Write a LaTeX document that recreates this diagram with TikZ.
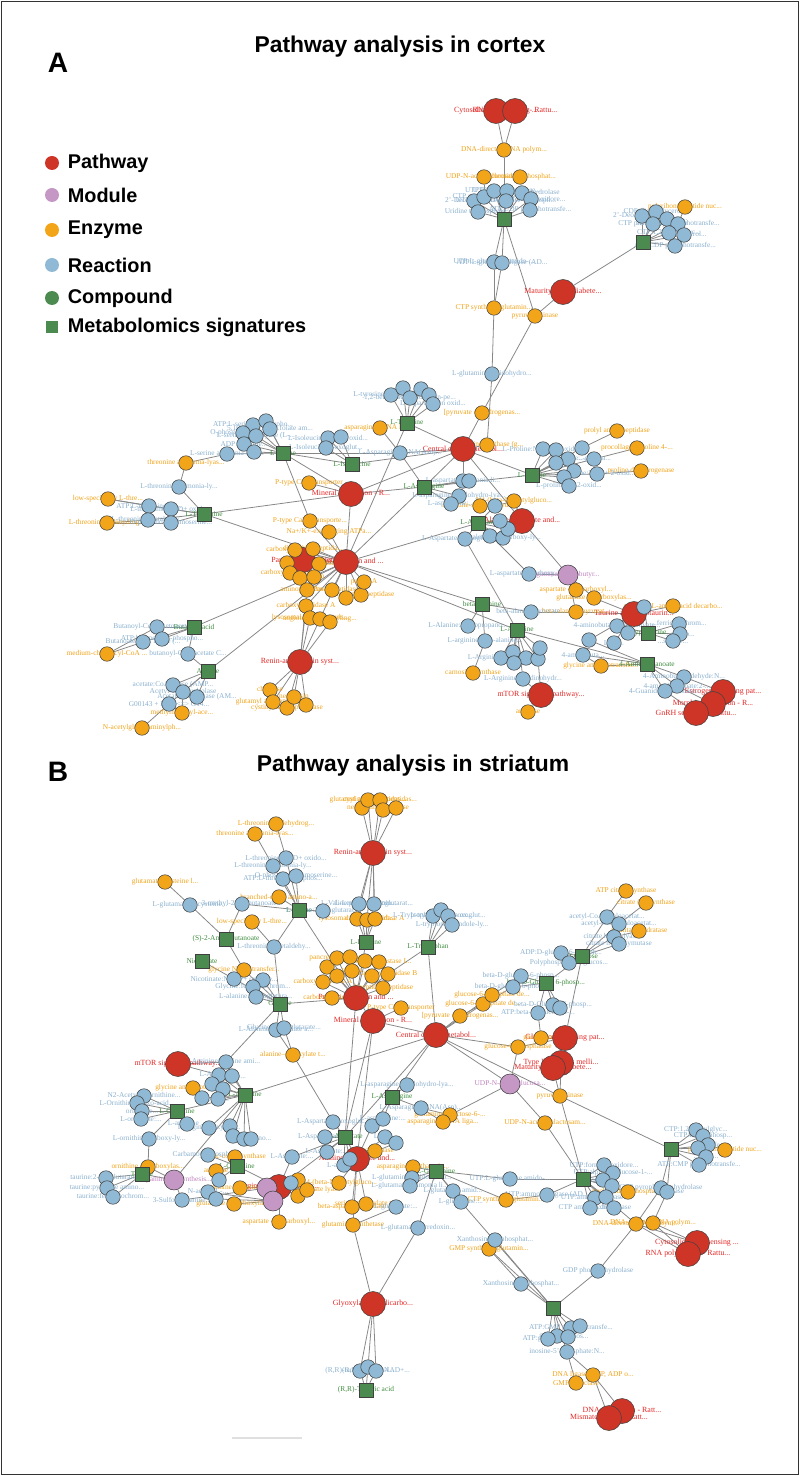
\documentclass[tikz,border=0pt]{standalone}
\usepackage{fontspec}
\setmainfont{Liberation Serif}
\newfontfamily\headfont{Liberation Sans}
\usepackage{tikz}
\usetikzlibrary{positioning}
\definecolor{pwred}{RGB}{206,53,39}
\definecolor{mdpink}{RGB}{197,151,197}
\definecolor{enzorange}{RGB}{242,165,24}
\definecolor{rxnblue}{RGB}{143,185,212}
\definecolor{cmpgreen}{RGB}{75,139,79}
\definecolor{pwtext}{RGB}{226,40,38}
\definecolor{mdtext}{RGB}{190,130,190}
\definecolor{enztext}{RGB}{240,162,24}
\definecolor{rxntext}{RGB}{138,176,206}
\definecolor{cmptext}{RGB}{62,140,62}
\definecolor{linkgray}{RGB}{135,135,135}
\pgfdeclarelayer{edges}
\pgfdeclarelayer{labels}
\pgfsetlayers{edges,labels,main}
\tikzset{
every node/.style={inner sep=1pt},
vtx/.style={circle, draw=black!75, line width=0.3pt, minimum size=2.9mm, inner sep=0pt},
pw/.style={vtx, fill=pwred, minimum size=5mm},
md/.style={vtx, fill=mdpink, minimum size=4mm},
enz/.style={vtx, fill=enzorange},
rxn/.style={vtx, fill=rxnblue},
cmp/.style={vtx, rectangle, fill=cmpgreen, minimum size=2.8mm},
lbl/.style={font=\fontsize{4.2}{5}\selectfont, inner sep=0pt},
pw text/.style={lbl, text=pwtext, font=\fontsize{4.5}{5}\selectfont},
md text/.style={lbl, text=mdtext},
enz text/.style={lbl, text=enztext},
rxn text/.style={lbl, text=rxntext},
cmp text/.style={lbl, text=cmptext},
link/.style={draw=linkgray, line width=0.45pt},
legend/.style={font=\headfont\bfseries\fontsize{11.3}{13}\selectfont},
heading/.style={font=\headfont\bfseries\fontsize{13}{15}\selectfont},
panel/.style={font=\headfont\bfseries\fontsize{16}{18}\selectfont},
}
% vertex now, its label collected and set later under the vertices
\makeatletter
\newcommand{\labelcode}{}
\newcommand{\netnode}[4]{%
  \node[#1] (#2) at (#3) {};%
  \g@addto@macro\labelcode{\node[#1 text] at (#3) {#4};}}
\makeatother

\begin{document}
\begin{tikzpicture}[x=0.2mm,y=-0.2mm]
  \useasboundingbox (0,0) rectangle (800,1476);
  \draw[black!80, line width=0.7pt] (1.5,1.5) rectangle (798.5,1474.5);

  %% panel A
  \node[panel] (labA) at (58,63) {A};
  \node[heading] (ttlA) at (400,47) {Pathway analysis in cortex};

  \node[pw, minimum size=2.8mm, draw=none] (lgPw) at (52,163) {};
  \node[legend, right=1.3mm of lgPw] {Pathway};
  \node[md, minimum size=2.8mm, draw=none] (lgMd) at (52,195) {};
  \node[legend, right=1.3mm of lgMd] {Module};
  \node[enz, minimum size=2.8mm, draw=none] (lgEnz) at (52,230) {};
  \node[legend, right=1.3mm of lgEnz] {Enzyme};
  \node[rxn, minimum size=2.8mm, draw=none] (lgRxn) at (52,265) {};
  \node[legend, right=1.3mm of lgRxn] {Reaction};
  \node[vtx, fill=cmpgreen, minimum size=2.8mm, draw=none] (lgCmp) at (52,298) {};
  \node[legend, right=1.3mm of lgCmp] {Compound};
  \node[cmp, minimum size=2.4mm, draw=none] (lgSig) at (52,327) {};
  \node[legend, right=1.5mm of lgSig] {Metabolomics signatures};

  \netnode{pw}{aCyt}{496,111}{Cytosolic DNA-sensing ...}
  \netnode{pw}{aRpol}{515,111}{RNA polymerase - Rattu...}
  \netnode{pw}{aMody}{563,292}{Maturity onset diabete...}
  \netnode{pw}{aCent}{463,449}{Central carbon metabol...}
  \netnode{pw}{aMin}{351,494}{Mineral absorption - R...}
  \netnode{pw}{aPanc}{303,560}{Pancreatic secretion}
  \netnode{pw}{aProt}{346,562}{Protein digestion and ...}
  \netnode{pw}{aRen}{300,662}{Renin-angiotensin syst...}
  \netnode{pw}{aAla}{522,521}{Alanine, aspartate and...}
  \netnode{pw}{aTau}{634,614}{Taurine and hypotaurin...}
  \netnode{pw}{aMtor}{541,695}{mTOR signaling pathway...}
  \netnode{pw}{aEst}{723,692}{Estrogen signaling pat...}
  \netnode{pw}{aMor}{713,704}{Morphine addiction - R...}
  \netnode{pw}{aGnrh}{696,713}{GnRH secretion - Rattu...}
  \netnode{md}{aGaba}{568,575}{gamma-aminobutyr...}

  \netnode{enz}{aDdrp}{504,150}{DNA-directed RNA polym...}
  \netnode{enz}{aUdp}{484,177}{UDP-N-acetylglucosam...}
  \netnode{enz}{aNdp}{520,177}{nucleoside-diphosphat...}
  \netnode{enz}{aCtps}{494,308}{CTP synthase (glutamin...}
  \netnode{enz}{aPyk}{535,316}{pyruvate kinase}
  \netnode{enz}{aPolyn}{685,207}{polyribonucleotide nuc...}
  \netnode{enz}{aPdh}{482,413}{[pyruvate dehydrogenas...}
  \netnode{enz}{aAsns}{487,445}{asparagine synthase (g...}
  \netnode{enz}{aProl}{617,431}{prolyl aminopeptidase}
  \netnode{enz}{aP4h}{637,448}{procollagen-proline 4-...}
  \netnode{enz}{aProdh}{641,471}{proline dehydrogenase}
  \netnode{enz}{aN4}{514,501}{N4-(beta-N-acetylgluco...}
  \netnode{enz}{aAsd}{480,506}{aspartate-semialdehyde...}
  \netnode{enz}{aAsnl}{380,428}{asparagine--tRNA liga...}
  \netnode{enz}{aCu}{309,483}{P-type Cu+ transporter}
  \netnode{enz}{aCa}{310,521}{P-type Ca2+ transporte...}
  \netnode{enz}{aNak}{329,532}{Na+/K+-exchanging ATPa...}
  \netnode{enz}{aThr}{186,463}{threonine ammonia-lyas...}
  \netnode{enz}{aLsta}{108,499}{low-specificity L-thre...}
  \netnode{enz}{aTdh}{107,523}{L-threonine 3-dehydrog...}
  \netnode{enz}{aDg1}{295,550}{carboxypeptidase...}
  \netnode{enz}{aDg2}{313,549}{dipeptidyl-peptida...}
  \netnode{enz}{aDg3}{287,563}{}
  \netnode{enz}{aDg4}{319,564}{pancreatic elastase II}
  \netnode{enz}{aDg5}{290,573}{carboxypeptidase B}
  \netnode{enz}{aDg6}{300,578}{}
  \netnode{enz}{aDg7}{314,577}{trypsin}
  \netnode{enz}{aDg8}{307,590}{aminopeptidase A}
  \netnode{enz}{aDg9}{332,590}{X-Pro dipeptidase}
  \netnode{enz}{aDg10}{346,598}{}
  \netnode{enz}{aDg11}{361,595}{membrane dipeptidase}
  \netnode{enz}{aDg12}{364,582}{pepsin A}
  \netnode{enz}{aDg13}{306,606}{carboxypeptidase A}
  \netnode{enz}{aDg14}{310,618}{lysosomal Pro-Xaa carb...}
  \netnode{enz}{aDg15}{320,619}{angiotensin-converting...}
  \netnode{enz}{aDg16}{330,622}{}
  \netnode{enz}{aRe1}{270,690}{chymase}
  \netnode{enz}{aRe2}{273,702}{glutamyl aminopeptidase}
  \netnode{enz}{aRe3}{287,708}{cystinyl aminopeptidase}
  \netnode{enz}{aRe4}{294,697}{neprilysin}
  \netnode{enz}{aRe5}{306,705}{renin}
  \netnode{enz}{aMcad}{107,654}{medium-chain acyl-CoA ...}
  \netnode{enz}{aMeth}{182,713}{methylmalonyl-ace...}
  \netnode{enz}{aNac}{142,728}{N-acetylglucosaminylph...}
  \netnode{enz}{aAsdc}{576,590}{aspartate 4-decarboxyl...}
  \netnode{enz}{aGad}{594,598}{glutamate decarboxylas...}
  \netnode{enz}{aBapt}{576,612}{beta-alanine--pyruvat...}
  \netnode{enz}{aAadc}{673,606}{aromatic-L-amino-acid decarbo...}
  \netnode{enz}{aGatm}{601,666}{glycine amidinotransfer...}
  \netnode{enz}{aCarn}{473,673}{carnosine synthase}
  \netnode{enz}{aArg}{528,712}{arginase}

  \netnode{cmp}{aC1}{504,219}{UTP}
  \netnode{cmp}{aC2}{643,242}{CTP}
  \netnode{cmp}{aTyr}{407,423}{L-Tyrosine}
  \netnode{cmp}{aSer}{283,453}{L-Serine}
  \netnode{cmp}{aIle}{352,464}{L-Isoleucine}
  \netnode{cmp}{aThrc}{204,514}{L-Threonine}
  \netnode{cmp}{aPro}{532,475}{L-Proline}
  \netnode{cmp}{aAsn}{424,487}{L-Asparagine}
  \netnode{cmp}{aAsp}{478,523}{L-Aspartate}
  \netnode{cmp}{aBut}{194,627}{Butanoic acid}
  \netnode{cmp}{aAce}{208,671}{Acetate}
  \netnode{cmp}{aBala}{482,604}{beta-Alanine}
  \netnode{cmp}{aArgc}{517,630}{L-Arginine}
  \netnode{cmp}{aHtau}{648,633}{Hypotaurine}
  \netnode{cmp}{aGabc}{647,664}{4-Aminobutanoate}

  \netnode{rxn}{ar1}{474,201}{2'-Deoxycytidine...}
  \netnode{rxn}{ar2}{478,212}{Uridine triphosphate...}
  \netnode{rxn}{ar3}{484,197}{CTP aminohydrolase}
  \netnode{rxn}{ar4}{494,191}{UTP:L-glutamine...}
  \netnode{rxn}{ar5}{507,191}{UTP:ammonia ligase...}
  \netnode{rxn}{ar6}{522,193}{UTP diphosphohydrolase}
  \netnode{rxn}{ar7}{531,199}{UTP:formate oxidore...}
  \netnode{rxn}{ar8}{530,210}{ATP:UDP phosphotransfe...}
  \netnode{rxn}{ar9}{506,201}{UTP:alpha-D-glucose-1-phosph...}
  \netnode{rxn}{ar10}{494,262}{UTP:L-glutamine amido-...}
  \netnode{rxn}{ar11}{502,263}{ATP:L-glutamate ligase (AD...}
  \netnode{rxn}{ar12}{642,216}{2'-Deoxycytidine...}
  \netnode{rxn}{ar13}{656,212}{CDP-diacylglycerol...}
  \netnode{rxn}{ar14}{667,219}{CTP:...phos...}
  \netnode{rxn}{ar15}{653,224}{CTP phosphohydrolase}
  \netnode{rxn}{ar16}{678,224}{ATP:CMP phosphotransfe...}
  \netnode{rxn}{ar17}{669,233}{CTP:1,2-diacylglyc...}
  \netnode{rxn}{ar18}{684,235}{CTP:glycerol...}
  \netnode{rxn}{ar19}{675,246}{ATP:CDP phosphotransfe...}
  \netnode{rxn}{ar20}{492,374}{L-glutamine amidohydro...}
  \netnode{rxn}{ar21}{391,395}{L-tyrosine:oxygen oxid...}
  \netnode{rxn}{ar22}{403,388}{}
  \netnode{rxn}{ar23}{410,398}{1,2-benzoquinone:oxygen-pe...}
  \netnode{rxn}{ar24}{421,389}{}
  \netnode{rxn}{ar25}{429,395}{}
  \netnode{rxn}{ar26}{433,404}{L-dopa:oxygen oxid...}
  \netnode{rxn}{ar27}{400,453}{L-Asparagine:tRNA(Asn)...}
  \netnode{rxn}{ar28}{253,425}{ATP:L-serine O-phospho...}
  \netnode{rxn}{ar29}{266,421}{}
  \netnode{rxn}{ar30}{270,429}{5,10-Methylene...folate am...}
  \netnode{rxn}{ar31}{243,433}{O-phospho-L-serine...}
  \netnode{rxn}{ar32}{256,436}{L-serine hydro-lyase (L-...}
  \netnode{rxn}{ar33}{244,444}{ADP:L-serine...}
  \netnode{rxn}{ar34}{254,452}{}
  \netnode{rxn}{ar35}{227,454}{L-serine ammonia-lyas...}
  \netnode{rxn}{ar36}{328,438}{L-Isoleucine:NAD+ oxid...}
  \netnode{rxn}{ar37}{341,437}{}
  \netnode{rxn}{ar38}{326,448}{L-Isoleucine:2-oxoglut...}
  \netnode{rxn}{ar39}{179,487}{L-threonine ammonia-ly...}
  \netnode{rxn}{ar40}{149,506}{ATP:L-threonine O-...}
  \netnode{rxn}{ar41}{171,509}{L-threonine:NAD+ oxido...}
  \netnode{rxn}{ar42}{148,520}{L-threonine acetaldehy...}
  \netnode{rxn}{ar43}{171,523}{O-phospho-L-homoserine...}
  \netnode{rxn}{ar44}{543,449}{L-Proline:NAD+ 5-oxido...}
  \netnode{rxn}{ar45}{556,450}{}
  \netnode{rxn}{ar46}{582,448}{}
  \netnode{rxn}{ar47}{568,459}{L-proline:...}
  \netnode{rxn}{ar48}{556,463}{}
  \netnode{rxn}{ar49}{594,459}{...-glutara...}
  \netnode{rxn}{ar50}{574,471}{}
  \netnode{rxn}{ar51}{597,474}{L-proline:NAD+ 2-oxid...}
  \netnode{rxn}{ar52}{564,477}{}
  \netnode{rxn}{ar53}{569,486}{L-proline:O2 2-oxid...}
  \netnode{rxn}{ar54}{463,481}{L-aspartate:ammonia li...}
  \netnode{rxn}{ar55}{469,481}{}
  \netnode{rxn}{ar56}{459,496}{L-asparagine amidohydro-lya...}
  \netnode{rxn}{ar57}{451,504}{L-asparagine:...}
  \netnode{rxn}{ar58}{495,506}{}
  \netnode{rxn}{ar59}{465,539}{L-Aspartate:2-oxoglutarate...}
  \netnode{rxn}{ar60}{490,536}{}
  \netnode{rxn}{ar61}{503,538}{oxaloacetate carboxy-ly...}
  \netnode{rxn}{ar62}{508,529}{}
  \netnode{rxn}{ar63}{500,521}{}
  \netnode{rxn}{ar64}{529,574}{L-aspartate 4-carboxy-ly...}
  \netnode{rxn}{ar65}{644,607}{}
  \netnode{rxn}{ar66}{617,626}{4-aminobutanoate:pyruvate...}
  \netnode{rxn}{ar67}{628,633}{}
  \netnode{rxn}{ar68}{614,643}{L-...:...}
  \netnode{rxn}{ar69}{589,640}{}
  \netnode{rxn}{ar70}{679,624}{...ferricytochrom...}
  \netnode{rxn}{ar71}{680,634}{...amino...}
  \netnode{rxn}{ar72}{673,641}{...starate...}
  \netnode{rxn}{ar73}{583,655}{4-aminobuta...}
  \netnode{rxn}{ar74}{684,677}{4-Aminobutyraldehyde:N...}
  \netnode{rxn}{ar75}{677,686}{4-aminobutanoate:2-...}
  \netnode{rxn}{ar76}{665,691}{4-Guanidinobutanoate...}
  \netnode{rxn}{ar77}{531,612}{beta-alanine:pyruvate...}
  \netnode{rxn}{ar78}{468,626}{L-Alanine:2-oxopropano...}
  \netnode{rxn}{ar79}{485,641}{L-arginine:beta-alanine...}
  \netnode{rxn}{ar80}{501,658}{L-Argininosuccinate...}
  \netnode{rxn}{ar81}{513,652}{}
  \netnode{rxn}{ar82}{526,658}{N-(...)...}
  \netnode{rxn}{ar83}{538,659}{}
  \netnode{rxn}{ar84}{540,648}{}
  \netnode{rxn}{ar85}{514,663}{}
  \netnode{rxn}{ar86}{523,679}{L-Arginine amidinohydr...}
  \netnode{rxn}{ar87}{157,627}{Butanoyl-CoA:acetoacetate...}
  \netnode{rxn}{ar88}{162,639}{ATP:butanoate 1-phospho...}
  \netnode{rxn}{ar89}{143,642}{Butanoate:CoA ligase (...}
  \netnode{rxn}{ar90}{188,654}{butanoyl-CoA:acetate C...}
  \netnode{rxn}{ar91}{173,685}{acetate:CoA ligase (AMP...}
  \netnode{rxn}{ar92}{183,692}{Acetyl-CoA hydrolase}
  \netnode{rxn}{ar93}{197,697}{Acetate:CoA ligase (AM...}
  \netnode{rxn}{ar94}{169,704}{G00143 + H2O <=> G14...}

  \begin{pgfonlayer}{edges}
  \path[link] (aCyt) edge (aDdrp) (aRpol) edge (aDdrp) (aDdrp) edge (aC1);
  \path[link] (aUdp) edge (ar3) (aNdp) edge (ar6);
  \path[link] (aC1) edge (ar1) edge (ar2) edge (ar3) edge (ar4) edge (ar5) edge (ar6)
    edge (ar7) edge (ar8) edge (ar9) edge (ar10) edge (ar11) edge (aPyk);
  \path[link] (aCtps) edge (ar10) edge (ar11) edge (ar20);
  \path[link] (ar20) edge (aAsns);
  \path[link] (aPyk) edge (aMody) edge (aPdh);
  \path[link] (aMody) edge (aC2);
  \path[link] (aC2) edge (ar12) edge (ar13) edge (ar14) edge (ar15) edge (ar16)
    edge (ar17) edge (ar18) edge (ar19);
  \path[link] (aPolyn) edge (ar16);
  \path[link] (aCent) edge (aPdh) edge (aAsns) edge (aPro) edge (aAsn) edge (ar54)
    edge (aMin) edge (aIle) edge (ar27) edge (aAla) edge (aTyr);
  \path[link] (aPro) edge (ar44) edge (ar45) edge (ar46) edge (ar47) edge (ar48)
    edge (ar49) edge (ar50) edge (ar51) edge (ar52) edge (ar53) edge (aAsn);
  \path[link] (aProl) edge (ar46) (aP4h) edge (ar49) (aProdh) edge (ar51);
  \path[link] (aTyr) edge (ar21) edge (ar22) edge (ar23) edge (ar24) edge (ar25)
    edge (ar26) edge (aProt);
  \path[link] (aAsnl) edge (ar27) (ar27) edge (aAsn) edge (aSer);
  \path[link] (aSer) edge (ar28) edge (ar29) edge (ar30) edge (ar31) edge (ar32)
    edge (ar33) edge (ar34) edge (ar35) edge (aIle) edge (aMin) edge (aCa);
  \path[link] (ar35) edge (aThr) (aThr) edge (ar39) (ar39) edge (aThrc);
  \path[link] (aThrc) edge (ar40) edge (ar41) edge (ar42) edge (ar43) edge (aMin) edge (aProt);
  \path[link] (ar40) edge (aLsta) (ar41) edge (aLsta) (ar42) edge (aTdh) (ar43) edge (aTdh);
  \path[link] (aIle) edge (ar36) edge (ar37) edge (ar38);
  \path[link] (aMin) edge (aCu) edge (aProt) edge (aAsn);
  \path[link] (aProt) edge (aDg1) edge (aDg2) edge (aDg4) edge (aDg7) edge (aDg8)
    edge (aDg9) edge (aDg10) edge (aDg11) edge (aDg12) edge (aDg13) edge (aDg15)
    edge (aCa) edge (aNak) edge (aAsn) edge (aAsp) edge (aBala) edge (aArgc)
    edge (aBut) edge (aAce) edge (aPanc);
  \path[link] (aPanc) edge (aDg1) edge (aDg3) edge (aDg5) edge (aDg6);
  \path[link] (aRen) edge (aDg13) edge (aDg14) edge (aDg15) edge (aDg16) edge (aDg8)
    edge (aRe1) edge (aRe2) edge (aRe3) edge (aRe4) edge (aRe5);
  \path[link] (aAsn) edge (ar54) edge (ar55) edge (ar56) edge (ar57);
  \path[link] (aAsd) edge (ar58) (aN4) edge (ar58) edge (aAla);
  \path[link] (aAsp) edge (ar59) edge (ar60) edge (ar61) edge (ar62) edge (ar63)
    edge (aAla) edge (ar64) edge (ar58);
  \path[link] (aAla) edge (aGaba);
  \path[link] (aGaba) edge (ar64) edge (aAsdc) edge (aGad) edge (aBapt);
  \path[link] (aTau) edge (aAadc) edge (ar65) edge (ar66) edge (ar67) edge (ar68)
    edge (ar69) edge (aGad) edge (aBapt);
  \path[link] (aHtau) edge (ar65) edge (ar66) edge (ar67) edge (ar70) edge (ar71) edge (ar72);
  \path[link] (aGabc) edge (ar73) edge (ar74) edge (ar75) edge (ar76) edge (aArgc)
    edge (aGatm) edge (ar69);
  \path[link] (aEst) edge (ar74) (aMor) edge (ar75) (aGnrh) edge (ar76);
  \path[link] (aBala) edge (ar77) edge (ar78) edge (ar79);
  \path[link] (ar77) edge (aBapt) (aCarn) edge (ar79);
  \path[link] (aArgc) edge (ar80) edge (ar81) edge (ar82) edge (ar83) edge (ar84)
    edge (ar85) edge (ar86) edge (ar59);
  \path[link] (aMtor) edge (ar86) edge (ar83) edge (aArg);
  \path[link] (aGatm) edge (ar73);
  \path[link] (aBut) edge (ar87) edge (ar88) edge (ar89) edge (ar90);
  \path[link] (aMcad) edge (ar87) edge (ar89) (ar90) edge (aAce);
  \path[link] (aAce) edge (ar91) edge (ar92) edge (ar93) edge (ar94);
  \path[link] (aMeth) edge (ar94) edge (ar92) (aNac) edge (ar94);
  \end{pgfonlayer}

  %% panel B
  \node[panel] (labB) at (58,772) {B};
  \node[heading] (ttlB) at (413,766) {Pathway analysis in striatum};

  \netnode{pw}{bRen}{373,853}{Renin-angiotensin syst...}
  \netnode{pw}{bProt}{356,998}{Protein digestion and ...}
  \netnode{pw}{bMin}{373,1021}{Mineral absorption - R...}
  \netnode{pw}{bCent}{436,1035}{Central carbon metabol...}
  \netnode{pw}{bGcg}{565,1038}{Glucagon signaling pat...}
  \netnode{pw}{bT2d}{561,1063}{Type II diabetes melli...}
  \netnode{pw}{bMody}{553,1068}{Maturity onset diabete...}
  \netnode{pw}{bMtor}{178,1064}{mTOR signaling pathway...}
  \netnode{pw}{bArgp}{279,1187}{Arginine and proline m...}
  \netnode{pw}{bAla}{357,1159}{Alanine, aspartate and...}
  \netnode{pw}{bGly}{373,1304}{Glyoxylate and dicarbo...}
  \netnode{pw}{bCyt}{697,1243}{Cytosolic DNA-sensing ...}
  \netnode{pw}{bRpol}{688,1254}{RNA polymerase - Rattu...}
  \netnode{pw}{bDnar}{622,1411}{DNA replication - Ratt...}
  \netnode{pw}{bMmr}{609,1418}{Mismatch repair - Ratt...}
  \netnode{md}{bUdpm}{510,1084}{UDP-N-acetylglucosa...}
  \netnode{md}{bPoly}{174,1180}{Polyamine biosynthesis...}
  \netnode{md}{bM2}{267,1188}{}
  \netnode{md}{bM3}{273,1201}{}

  \netnode{enz}{bRe1}{362,808}{neprilysin}
  \netnode{enz}{bRe2}{368,800}{glutamyl aminopeptidas...}
  \netnode{enz}{bRe3}{380,800}{cystinyl aminopeptidas...}
  \netnode{enz}{bRe4}{383,810}{renin}
  \netnode{enz}{bRe5}{396,808}{chymase}
  \netnode{enz}{bTdh}{276,824}{L-threonine 3-dehydrog...}
  \netnode{enz}{bThr}{255,834}{threonine ammonia-lyas...}
  \netnode{enz}{bGcl}{165,882}{glutamate--cysteine l...}
  \netnode{enz}{bBcat}{279,897}{branched-chain amino-a...}
  \netnode{enz}{bLsta}{252,922}{low-specificity L-thre...}
  \netnode{enz}{bGnat}{244,970}{glycine N-acyltransfer...}
  \netnode{enz}{bAgxt}{293,1055}{alanine--glyoxylate t...}
  \netnode{enz}{bL1}{357,919}{lysosomal Pro-Xaa carb...}
  \netnode{enz}{bL2}{367,920}{}
  \netnode{enz}{bL3}{375,919}{carboxypeptidase A}
  \netnode{enz}{bDg1}{327,967}{}
  \netnode{enz}{bDg2}{337,958}{pancreatic elastase}
  \netnode{enz}{bDg3}{350,957}{}
  \netnode{enz}{bDg4}{365,961}{chymotrypsin}
  \netnode{enz}{bDg5}{379,962}{pancreatic elastase I...}
  \netnode{enz}{bDg6}{388,974}{carboxypeptidase B}
  \netnode{enz}{bDg7}{372,976}{}
  \netnode{enz}{bDg8}{352,971}{trypsin}
  \netnode{enz}{bDg9}{337,976}{}
  \netnode{enz}{bDg10}{323,982}{carboxypeptidase A}
  \netnode{enz}{bDg11}{383,988}{dipeptidyl-peptidase}
  \netnode{enz}{bDg12}{332,998}{carboxypeptidase...}
  \netnode{enz}{bCu}{401,1008}{P-type Cu+ transporter}
  \netnode{enz}{bPdh}{460,1016}{[pyruvate dehydrogenas...}
  \netnode{enz}{bG6pd1}{483,1004}{glucose-6-phosphate de...}
  \netnode{enz}{bG6pd2}{492,995}{glucose-6-phosphate de...}
  \netnode{enz}{bAcly}{626,891}{ATP citrate synthase}
  \netnode{enz}{bCs}{646,903}{citrate (si)-synthase}
  \netnode{enz}{bAco}{639,931}{aconitate hydratase}
  \netnode{enz}{bG6pc}{518,1047}{glucose-6-phosphatase}
  \netnode{enz}{bGk}{541,1038}{glucokinase}
  \netnode{enz}{bPyk}{560,1096}{pyruvate kinase}
  \netnode{enz}{bGalnt}{545,1123}{UDP-N-acetylgalactosam...}
  \netnode{enz}{bAsnl}{450,1115}{glutamine--fructose-6-...}
  \netnode{enz}{bAsns}{443,1122}{asparagine--tRNA liga...}
  \netnode{enz}{bGlnE}{413,1167}{asparagine synthase (g...}
  \netnode{enz}{bCtps}{506,1200}{CTP synthase (glutamin...}
  \netnode{enz}{bNdp}{628,1192}{nucleoside-diphosphat...}
  \netnode{enz}{bPolyn}{725,1150}{polyribonucleotide nuc...}
  \netnode{enz}{bDpol}{636,1224}{DNA-directed DNA polym...}
  \netnode{enz}{bRpolE}{653,1223}{DNA-directed RNA polym...}
  \netnode{enz}{bGmps}{489,1249}{GMP synthase (glutamin...}
  \netnode{enz}{bLig}{593,1375}{DNA ligase (ATP, ADP o...}
  \netnode{enz}{bGmp2}{576,1383}{GMP reductase}
  \netnode{enz}{bGca}{193,1088}{glycine amidinotransfer...}
  \netnode{enz}{bOdc}{148,1167}{ornithine decarboxylas...}
  \netnode{enz}{bNos}{235,1157}{nitric-oxide synthase}
  \netnode{enz}{bArgs}{216,1171}{arginase}
  \netnode{enz}{bOat}{240,1188}{ornithine carbamoyltr...}
  \netnode{enz}{bGad}{234,1204}{glutamate decarboxylas...}
  \netnode{enz}{bAsl1}{298,1180}{}
  \netnode{enz}{bAsl2}{298,1196}{}
  \netnode{enz}{bAsl3}{307,1190}{argininosuccinate lyas...}
  \netnode{enz}{bAsdc}{279,1222}{aspartate 4-decarboxyl...}
  \netnode{enz}{bAsnase}{375,1151}{asparaginase}
  \netnode{enz}{bN4}{339,1183}{N4-(beta-N-acetylgluco...}
  \netnode{enz}{bSgat}{352,1207}{beta-aspartyl-peptidase}
  \netnode{enz}{bBasp}{366,1204}{serine--glyoxylate t...}
  \netnode{enz}{bGs}{353,1225}{glutamine synthetase}

  \netnode{cmp}{bLeu}{366,942}{L-Leucine}
  \netnode{cmp}{bVal}{299,910}{L-Valine}
  \netnode{cmp}{bAbu}{226,939}{(S)-2-Aminobutanoate}
  \netnode{cmp}{bNic}{202,961}{Nicotinate}
  \netnode{cmp}{bGlyc}{280,1004}{Glycine}
  \netnode{cmp}{bTrp}{428,947}{L-Tryptophan}
  \netnode{cmp}{bGlc}{582,956}{D-Glucose}
  \netnode{cmp}{bBg6p}{546,983}{beta-D-Glucose 6-phosp...}
  \netnode{cmp}{bAsn}{392,1097}{L-Asparagine}
  \netnode{cmp}{bGln}{436,1171}{L-Glutamine}
  \netnode{cmp}{bUtp}{583,1179}{UTP}
  \netnode{cmp}{bCtp}{671,1149}{CTP}
  \netnode{cmp}{bGtp}{553,1308}{GTP}
  \netnode{cmp}{bArgc}{245,1095}{L-Arginine}
  \netnode{cmp}{bOrn}{177,1111}{L-Ornithine}
  \netnode{cmp}{bTau}{142,1174}{Taurine}
  \netnode{cmp}{bCit}{237,1166}{L-Citrulline}
  \netnode{cmp}{bAsp}{345,1137}{L-Aspartate}
  \netnode{cmp}{bTart}{366,1390}{(R,R)-Tartaric acid}

  \netnode{rxn}{br1}{286,858}{L-threonine:NAD+ oxido...}
  \netnode{rxn}{br2}{273,866}{L-threonine ammonia-ly...}
  \netnode{rxn}{br3}{283,879}{ATP:L-threonine O-phos...}
  \netnode{rxn}{br4}{296,876}{O-phospho-L-homoserine...}
  \netnode{rxn}{br5}{190,905}{L-glutamate:L-cysteine...}
  \netnode{rxn}{br6}{242,904}{3-methyl-2-oxobutanoate...}
  \netnode{rxn}{br7}{323,911}{L-Valine:2-oxoglutarat...}
  \netnode{rxn}{br8}{274,947}{L-threonine acetaldehy...}
  \netnode{rxn}{br9}{234,979}{Nicotinate:NADP+ oxidore...}
  \netnode{rxn}{br10}{263,980}{}
  \netnode{rxn}{br11}{253,987}{Glycine:ferricytochrom...}
  \netnode{rxn}{br12}{256,997}{L-alanine:2-oxoglutara...}
  \netnode{rxn}{br13}{276,1030}{L-Alanine:glyoxylate a...}
  \netnode{rxn}{br14}{284,1028}{Glycine:2-oxoglutarate...}
  \netnode{rxn}{br15}{359,904}{L-Valine:pyruvate amin...}
  \netnode{rxn}{br16}{374,904}{L-Leucine:2-oxoglutarat...}
  \netnode{rxn}{br17}{433,916}{L-Tryptophan:oxygen ox...}
  \netnode{rxn}{br18}{441,910}{}
  \netnode{rxn}{br19}{448,916}{L-tryptophan:2-oxoglut...}
  \netnode{rxn}{br20}{452,925}{L-tryptophan indole-ly...}
  \netnode{rxn}{br21}{607,917}{acetyl-CoA:oxaloacetat...}
  \netnode{rxn}{br22}{619,924}{acetyl-CoA:oxaloacetat...}
  \netnode{rxn}{br23}{614,937}{citrate hydro-lyase...}
  \netnode{rxn}{br24}{619,944}{citrate hydroxymutase}
  \netnode{rxn}{br25}{561,953}{ADP:D-glucose 6-phosph...}
  \netnode{rxn}{br26}{569,963}{Polyphosphate:D-glucos...}
  \netnode{rxn}{br27}{521,976}{beta-D-glucose-6-phosp...}
  \netnode{rxn}{br28}{513,987}{beta-D-glucose 6-phosp...}
  \netnode{rxn}{br29}{553,1005}{beta-D-Glucose 6-phosp...}
  \netnode{rxn}{br30}{560,1008}{}
  \netnode{rxn}{br31}{538,1013}{ATP:beta-D-glucose 6-...}
  \netnode{rxn}{br32}{407,1085}{L-asparagine amidohydro-lya...}
  \netnode{rxn}{br33}{421,1108}{L-Asparagine:tRNA(Asn)...}
  \netnode{rxn}{br34}{412,1178}{L-glutamine amidohydro...}
  \netnode{rxn}{br35}{410,1186}{L-glutamate:ammonia li...}
  \netnode{rxn}{br36}{453,1191}{L-glutamine amid...}
  \netnode{rxn}{br37}{461,1202}{L-glutamine:...}
  \netnode{rxn}{br38}{510,1179}{UTP:L-glutamine amido-...}
  \netnode{rxn}{br39}{547,1195}{UTP:ammonia ligase (AD...}
  \netnode{rxn}{br40}{418,1228}{L-glutamate:ferredoxin...}
  \netnode{rxn}{br41}{604,1165}{UTP:formate oxidore...}
  \netnode{rxn}{br42}{613,1173}{UTP:alpha-D-glucose-1-...}
  \netnode{rxn}{br43}{603,1180}{...otransfe...}
  \netnode{rxn}{br44}{612,1186}{}
  \netnode{rxn}{br45}{595,1198}{UTP:ammonia ligase...}
  \netnode{rxn}{br46}{606,1197}{}
  \netnode{rxn}{br47}{590,1208}{CTP aminohydrolase}
  \netnode{rxn}{br48}{614,1208}{...hydrolase}
  \netnode{rxn}{br49}{696,1130}{CTP:1,2-diacylglyc...}
  \netnode{rxn}{br50}{703,1136}{CTP:D-...6-phosp...}
  \netnode{rxn}{br51}{708,1145}{...otransfe...}
  \netnode{rxn}{br52}{698,1148}{}
  \netnode{rxn}{br53}{706,1157}{...phos...}
  \netnode{rxn}{br54}{699,1165}{ATP:CMP phosphotransfe...}
  \netnode{rxn}{br55}{661,1188}{CTP pyrophosphohydrolase}
  \netnode{rxn}{br56}{667,1192}{...hydrolase}
  \netnode{rxn}{br57}{495,1240}{Xanthosine 5'-phosphat...}
  \netnode{rxn}{br58}{598,1271}{GDP phosphohydrolase}
  \netnode{rxn}{br59}{521,1284}{Xanthosine 5'-phosphat...}
  \netnode{rxn}{br60}{571,1328}{ATP:GMP phosphotransfe...}
  \netnode{rxn}{br61}{580,1326}{}
  \netnode{rxn}{br62}{557,1336}{guanosine...}
  \netnode{rxn}{br63}{568,1337}{GTP:...phos...}
  \netnode{rxn}{br64}{548,1339}{ATP:guanosine...}
  \netnode{rxn}{br65}{567,1352}{inosine-5'-phosphate:N...}
  \netnode{rxn}{br66}{226,1062}{Arginine:glycine ami...}
  \netnode{rxn}{br67}{219,1075}{L-Arginine...}
  \netnode{rxn}{br68}{232,1076}{...oxido...}
  \netnode{rxn}{br69}{212,1084}{}
  \netnode{rxn}{br70}{223,1089}{}
  \netnode{rxn}{br71}{202,1098}{}
  \netnode{rxn}{br72}{218,1099}{...ami...}
  \netnode{rxn}{br73}{144,1096}{N2-Acetyl-L-ornithine...}
  \netnode{rxn}{br74}{137,1103}{L-Ornithine:2-oxo-acid...}
  \netnode{rxn}{br75}{142,1111}{ornithine...}
  \netnode{rxn}{br76}{141,1119}{L-ornithine:...}
  \netnode{rxn}{br77}{187,1124}{L-arginine ...}
  \netnode{rxn}{br78}{209,1128}{L-Arginine:oxygen...}
  \netnode{rxn}{br79}{230,1126}{}
  \netnode{rxn}{br80}{233,1136}{}
  \netnode{rxn}{br81}{244,1139}{}
  \netnode{rxn}{br82}{251,1139}{...guanidino...}
  \netnode{rxn}{br83}{149,1139}{L-ornithine carboxy-ly...}
  \netnode{rxn}{br84}{208,1155}{Carbamoyl-phosphate...}
  \netnode{rxn}{br85}{219,1180}{}
  \netnode{rxn}{br86}{106,1178}{taurine:2-oxoglutarate...}
  \netnode{rxn}{br87}{107,1188}{taurine:pyruvate amino...}
  \netnode{rxn}{br88}{113,1197}{taurine:ferricytochrom...}
  \netnode{rxn}{br89}{182,1200}{3-Sulfo-L-alanine...}
  \netnode{rxn}{br90}{208,1192}{N-acetyl-L-...}
  \netnode{rxn}{br91}{216,1199}{}
  \netnode{rxn}{br92}{291,1183}{}
  \netnode{rxn}{br93}{292,1157}{L-Aspartate:...}
  \netnode{rxn}{br94}{333,1122}{L-Aspartate:2-oxoglut...}
  \netnode{rxn}{br95}{325,1137}{L-Aspartic acid:...}
  \netnode{rxn}{br96}{327,1152}{L-Aspartate:...}
  \netnode{rxn}{br97}{344,1165}{L-alanine...}
  \netnode{rxn}{br98}{350,1159}{}
  \netnode{rxn}{br99}{372,1126}{}
  \netnode{rxn}{br100}{383,1119}{L-asparagine:...}
  \netnode{rxn}{br101}{385,1137}{L-asp...}
  \netnode{rxn}{br102}{396,1143}{}
  \netnode{rxn}{br103}{396,1207}{L-glutamate:...}
  \netnode{rxn}{br104}{360,1371}{(R,R)-tartrate hydro-l...}
  \netnode{rxn}{br105}{368,1367}{}
  \netnode{rxn}{br106}{376,1371}{(R,R)-tartrate:NAD+...}

  \begin{pgfonlayer}{edges}
  \path[link] (bRen) edge (bRe1) edge (bRe2) edge (bRe3) edge (bRe4) edge (bRe5)
    edge (bL1) edge (bL2) edge (bL3) edge (br15) edge (br16);
  \path[link] (bLeu) edge (bL1) edge (bL2) edge (bL3) edge (br15) edge (br16) edge (bProt);
  \path[link] (bVal) edge (bBcat) edge (br7) edge (br6) edge (bProt) edge (br1)
    edge (br2) edge (br3) edge (br4) edge (br8);
  \path[link] (bThr) edge (br2) (bTdh) edge (br1) (bGcl) edge (br5);
  \path[link] (br8) edge (bGlyc) (bLsta) edge (br8);
  \path[link] (bAbu) edge (br6) edge (br5) edge (bGnat);
  \path[link] (bNic) edge (br9);
  \path[link] (bGlyc) edge (br9) edge (br10) edge (br11) edge (br12) edge (bGnat)
    edge (br13) edge (br14) edge (bProt) edge (br66);
  \path[link] (bAgxt) edge (br13) edge (br14) edge (br94);
  \path[link] (bProt) edge (bDg1) edge (bDg2) edge (bDg3) edge (bDg4) edge (bDg5)
    edge (bDg6) edge (bDg7) edge (bDg8) edge (bDg9) edge (bDg10) edge (bDg11)
    edge (bDg12) edge (bMin) edge (bAsp);
  \path[link] (bMin) edge (bCu) edge (bAsp) edge (bAla) edge (bCent);
  \path[link] (bTrp) edge (br17) edge (br18) edge (br19) edge (br20) edge (bCent) edge (bDg6);
  \path[link] (bCent) edge (bPdh) edge (bG6pd1) edge (bG6pd2) edge (bG6pc) edge (bPyk)
    edge (bUdpm) edge (bAsn) edge (bAsp) edge (bArgc);
  \path[link] (bG6pd1) edge (br28) (bG6pd2) edge (br27) (bPdh) edge (bG6pd1);
  \path[link] (bBg6p) edge (br27) edge (br28) edge (br29) edge (br30) edge (br31) edge (bGlc);
  \path[link] (bGlc) edge (br25) edge (br26) edge (br21) edge (br22) edge (br23) edge (br24);
  \path[link] (bAcly) edge (br21) (bCs) edge (br22) (bAco) edge (br23);
  \path[link] (bGcg) edge (bG6pc) edge (bGk) edge (bGlc);
  \path[link] (bGk) edge (br31) (bT2d) edge (bPyk) (bMody) edge (bPyk);
  \path[link] (bPyk) edge (bCtp) edge (bUtp);
  \path[link] (bUdpm) edge (bG6pc) edge (bAsnl) edge (bGalnt);
  \path[link] (bGalnt) edge (bUtp);
  \path[link] (bAsn) edge (br32) edge (br33) edge (br99) edge (br100);
  \path[link] (bAsns) edge (br33) (bAsnl) edge (br33);
  \path[link] (bGln) edge (br34) edge (br35) edge (br36) edge (br37) edge (bGlnE)
    edge (br38) edge (bCtps) edge (br40);
  \path[link] (br38) edge (bUtp) (bCtps) edge (br39) (br39) edge (bUtp);
  \path[link] (bUtp) edge (br41) edge (br42) edge (br43) edge (br44) edge (br45)
    edge (br46) edge (br47) edge (br48) edge (bNdp) edge (bDpol);
  \path[link] (bCtp) edge (br49) edge (br50) edge (br51) edge (br52) edge (br53)
    edge (br54) edge (br55) edge (br56);
  \path[link] (bPolyn) edge (br51) (br55) edge (bDpol) (br56) edge (bRpolE);
  \path[link] (bDpol) edge (bCyt) edge (bRpol) edge (br58) (bRpolE) edge (bCyt) edge (bRpol);
  \path[link] (br58) edge (bGtp);
  \path[link] (bGtp) edge (br60) edge (br61) edge (br62) edge (br63) edge (br64)
    edge (br65) edge (br59) edge (br57) edge (br37) edge (bGmps);
  \path[link] (br57) edge (bGmps) (br59) edge (bGmps);
  \path[link] (br65) edge (bLig) edge (bGmp2) (bLig) edge (bDnar) edge (bMmr);
  \path[link] (bGly) edge (bGs) edge (br40) edge (br104) edge (br105) edge (br106);
  \path[link] (bTart) edge (br104) edge (br105) edge (br106);
  \path[link] (bGs) edge (br103);
  \path[link] (bAsp) edge (br93) edge (br94) edge (br95) edge (br96) edge (br97)
    edge (br98) edge (bAla) edge (bArgp);
  \path[link] (bAla) edge (br99) edge (br101) edge (br102) edge (bAsnase) edge (bN4)
    edge (bSgat) edge (bBasp) edge (bGs);
  \path[link] (bArgp) edge (bM2) edge (bM3) edge (bAsl1) edge (bAsl2) edge (bAsl3)
    edge (br92) edge (bAsdc) edge (bOat) edge (br93) edge (bCit);
  \path[link] (bCit) edge (bNos) edge (br84) edge (bArgs) edge (br85);
  \path[link] (bArgc) edge (br66) edge (br67) edge (br68) edge (br69) edge (br70)
    edge (br71) edge (br72) edge (br78) edge (br79) edge (br80) edge (br81) edge (br82)
    edge (bOrn) edge (bPoly);
  \path[link] (bGca) edge (br71) (bMtor) edge (br66) edge (br67);
  \path[link] (bOrn) edge (br73) edge (br74) edge (br75) edge (br76) edge (br77) edge (br83);
  \path[link] (br83) edge (bOdc) (bOdc) edge (bPoly);
  \path[link] (bTau) edge (br86) edge (br87) edge (br88) edge (bPoly);
  \path[link] (bPoly) edge (br89) (br89) edge (bM2) (br90) edge (bM3) (br91) edge (bM3);
  \path[link] (bGad) edge (bM3);
  \end{pgfonlayer}

  \begin{pgfonlayer}{labels}
  \labelcode
  \end{pgfonlayer}

  \draw[black!12, line width=1.2pt] (232,1438) -- (302,1438);
\end{tikzpicture}
\end{document}
